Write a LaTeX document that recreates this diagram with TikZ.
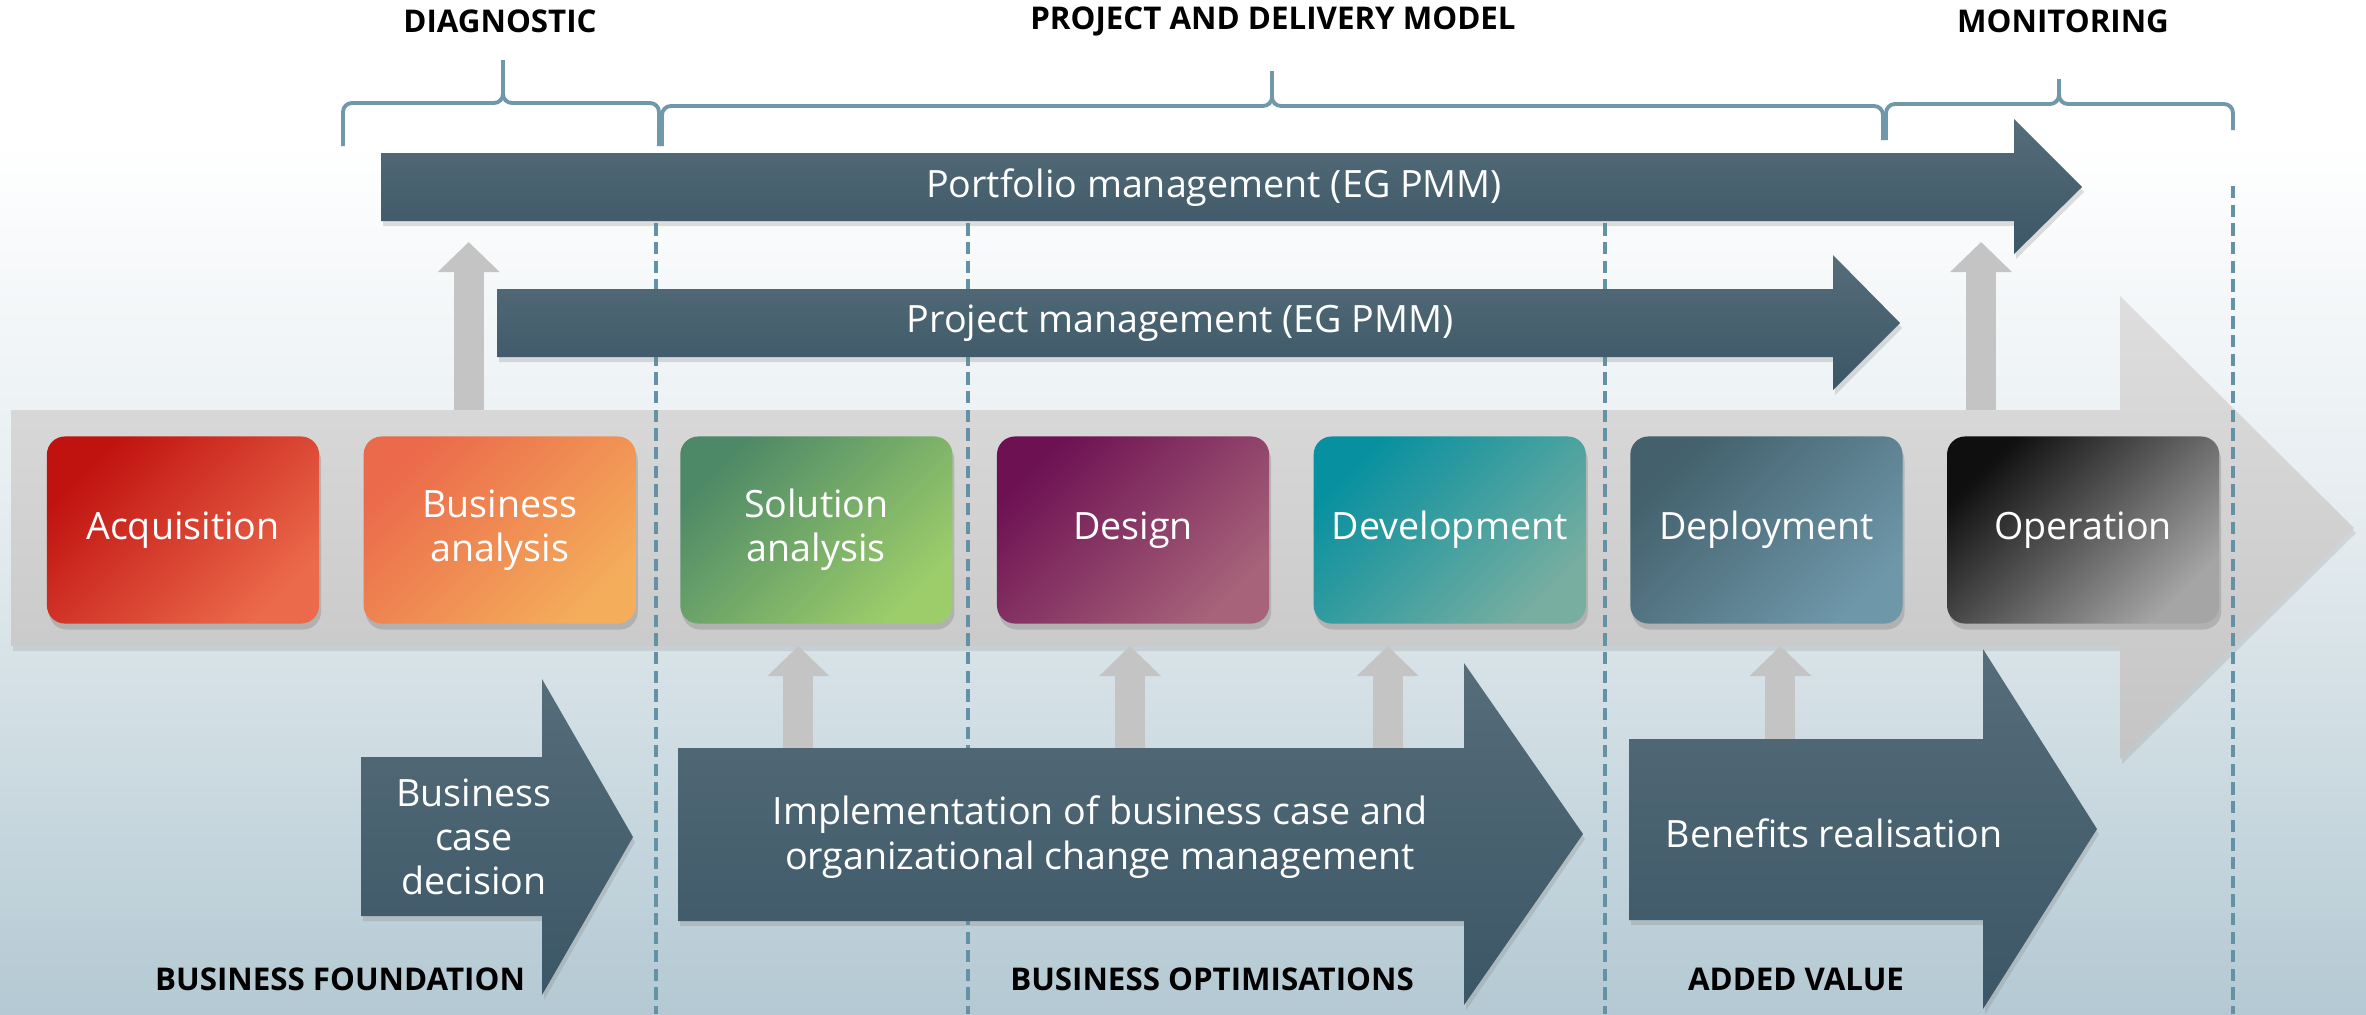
\documentclass[tikz,border=0pt]{standalone}
\usepackage{fontspec}
\setmainfont{Open Sans}
\usetikzlibrary{arrows.meta,shadows,positioning}

\definecolor{bgblue}{HTML}{B4C9D3}
\definecolor{bgmid}{HTML}{E6EDF0}
\definecolor{dtop}{HTML}{566D7A}
\definecolor{dbot}{HTML}{3B5666}
\definecolor{brcol}{HTML}{6F98AB}
\definecolor{dashcol}{HTML}{6392A6}
\definecolor{upgrey}{HTML}{C4C4C4}
\definecolor{acqA}{HTML}{C0120F}\definecolor{acqB}{HTML}{EC6A4C}
\definecolor{baA}{HTML}{EB6A4B}\definecolor{baB}{HTML}{F4AD5B}
\definecolor{saA}{HTML}{4E8967}\definecolor{saB}{HTML}{9CCD6A}
\definecolor{deA}{HTML}{6D1153}\definecolor{deB}{HTML}{A7637A}
\definecolor{dvA}{HTML}{07909F}\definecolor{dvB}{HTML}{77AEA0}
\definecolor{dpA}{HTML}{43606C}\definecolor{dpB}{HTML}{6E97A9}
\definecolor{opA}{HTML}{0F0F0F}\definecolor{opB}{HTML}{A5A5A5}

\pgfdeclareverticalshading{bgshade}{100bp}{color(0bp)=(bgblue); color(25bp)=(bgblue); color(50bp)=(bgmid); color(68bp)=(white); color(100bp)=(white)}

\newcommand{\lbl}{\fontsize{10.7}{12.6}\selectfont}
\newcommand{\hdr}{\fontsize{8.9}{10}\selectfont\bfseries}

% left x, tip x, right x, flat y, tip y, left end y, right end y
\newcommand{\topbrace}[7]{%
  \draw[bracket] (#1,#6) -- (#1,#4) -- (#2,#4) -- (#2,#5);
  \draw[bracket] (#2,#5) -- (#2,#4) -- (#3,#4) -- (#3,#7);}

\tikzset{
  bracket/.style={draw=brcol, line width=1.1pt, rounded corners=0.09cm},
  heading/.style={font=\hdr, text=black, inner sep=0pt},
  lbl/.style={font=\lbl, text=white, align=center, inner sep=0pt},
  stage/.style 2 args={rounded corners=0.18cm, minimum width=2.72cm, minimum height=1.87cm,
    inner sep=0pt, outer sep=0pt, font=\lbl, text=white, align=center,
    top color=#1, bottom color=#2, shading angle=45,
    drop shadow={shadow xshift=0.02cm, shadow yshift=-0.06cm, opacity=0.35}},
  flow/.style={top color=dtop, bottom color=dbot,
    drop shadow={shadow xshift=0.02cm, shadow yshift=-0.05cm, opacity=0.25}},
  band/.style={top color=black!13, bottom color=black!23,
    drop shadow={shadow xshift=0.02cm, shadow yshift=-0.05cm, opacity=0.2}},
  phase/.style={draw=dashcol, line width=1pt, dash pattern=on 3.5pt off 1.8pt},
  feed/.style={draw=upgrey, line width=0.3cm, -{Triangle[length=0.3cm, width=0.6cm]}},
}

\begin{document}
\begin{tikzpicture}[x=0.01cm, y=-0.01cm]
  \useasboundingbox (0,0) rectangle (2366,1014);
  \shade[shading=bgshade] (0,0) rectangle (2366,1014);

  % section braces and titles
  \topbrace{343}{503}{659}{103}{60}{146}{146}
  \topbrace{662}{1272}{1883}{106}{71}{146}{140}
  \topbrace{1886}{2059}{2233}{104}{79}{140}{130}
  \node[heading] (diag) at (500,21)  {DIAGNOSTIC};
  \node[heading] (pdm)  at (1273,21) {PROJECT AND DELIVERY MODEL};
  \node[heading] (mon)  at (2063,21) {MONITORING};

  % grey process band
  \path[band] (11,410) -- (2120,410) -- (2120,296) -- (2354,528) -- (2120,759)
    -- (2120,646) -- (11,646) -- cycle;
  \coordinate (bandN) at (0,410);
  \coordinate (bandS) at (0,646);

  % phase borders
  \foreach \x in {656,968,1605,2233}
    \draw[phase] (\x,186) -- (\x,1014);

  % stages
  \node[stage={acqA}{acqB}]                     (acq) at (183,530) {Acquisition};
  \node[stage={baA}{baB}, right=0.445cm of acq] (ba)  {Business\\analysis};
  \node[stage={saA}{saB}, right=0.445cm of ba]  (sa)  {Solution\\analysis};
  \node[stage={deA}{deB}, right=0.445cm of sa]  (de)  {Design};
  \node[stage={dvA}{dvB}, right=0.445cm of de]  (dv)  {Development};
  \node[stage={dpA}{dpB}, right=0.445cm of dv]  (dp)  {Deployment};
  \node[stage={opA}{opB}, right=0.445cm of dp]  (op)  {Operation};

  % management arrows
  \path[flow] (381,153) -- (2014,153) -- (2014,119) -- (2082,187) -- (2014,254)
    -- (2014,221) -- (381,221) -- cycle;
  \path[flow] (497,289) -- (1833,289) -- (1833,255) -- (1900,323) -- (1833,390)
    -- (1833,357) -- (497,357) -- cycle;
  \node[lbl] (pf) at (1214,188) {Portfolio management (EG PMM)};
  \node[lbl] (pm) at (1180,323) {Project management (EG PMM)};
  \coordinate (pfS) at (0,242);

  % business arrows
  \path[flow] (361,757) -- (542,757) -- (542,679) -- (633,837) -- (542,995)
    -- (542,916) -- (361,916) -- cycle;
  \path[flow] (678,748) -- (1464,748) -- (1464,663) -- (1583,834) -- (1464,1005)
    -- (1464,921) -- (678,921) -- cycle;
  \path[flow] (1629,739) -- (1983,739) -- (1983,649) -- (2097,829) -- (1983,1009)
    -- (1983,920) -- (1629,920) -- cycle;
  \node[lbl] (bcd)  at (474,837)  {Business\\case\\decision};
  \node[lbl] (impl) at (1100,837) {Implementation of business case and\\organizational change management};
  \node[lbl] (ben)  at (1834,833) {Benefits realisation};
  \coordinate (implN) at (0,748);
  \coordinate (benN)  at (0,739);

  % feeds between the layers
  \draw[feed] ([xshift=-0.31cm]ba.north |- bandN) -- ([xshift=-0.31cm]ba.north |- pfS);
  \draw[feed] ([xshift=-1.02cm]op.north |- bandN) -- ([xshift=-1.02cm]op.north |- pfS);
  \draw[feed] ([xshift=-0.18cm]sa.south |- implN) -- ([xshift=-0.18cm]sa.south |- bandS);
  \draw[feed] ([xshift=-0.03cm]de.south |- implN) -- ([xshift=-0.03cm]de.south |- bandS);
  \draw[feed] ([xshift=-0.62cm]dv.south |- implN) -- ([xshift=-0.62cm]dv.south |- bandS);
  \draw[feed] ([xshift=0.14cm]dp.south |- benN) -- ([xshift=0.14cm]dp.south |- bandS);

  % bottom titles
  \node[heading] (bf) at (340,979)  {BUSINESS FOUNDATION};
  \node[heading] (bo) at (1212,979) {BUSINESS OPTIMISATIONS};
  \node[heading] (av) at (1796,979) {ADDED VALUE};
\end{tikzpicture}
\end{document}
